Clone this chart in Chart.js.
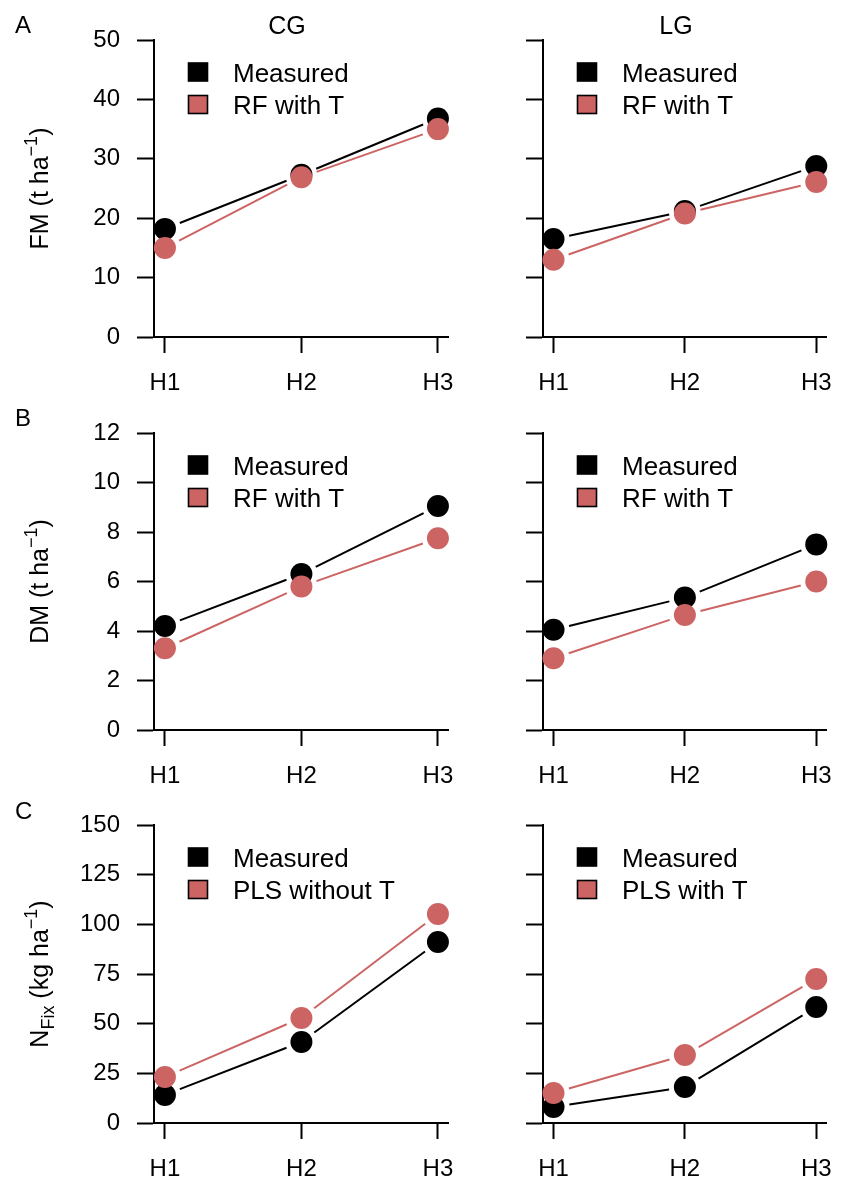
<!DOCTYPE html>
<html>
<head>
<meta charset="utf-8">
<script src="https://cdn.jsdelivr.net/npm/chart.js@4.4.1/dist/chart.umd.min.js"></script>
<style>
  body { margin: 0; background: #fff; }
  #wrap { position: relative; width: 848px; height: 1185px; }
  canvas { position: absolute; }
</style>
</head>
<body>
<div id="wrap">
  <canvas id="fmCG" width="470" height="393" style="left:0;top:0"></canvas>
  <canvas id="fmLG" width="378" height="393" style="left:470px;top:0"></canvas>
  <canvas id="dmCG" width="470" height="393" style="left:0;top:393px"></canvas>
  <canvas id="dmLG" width="378" height="393" style="left:470px;top:393px"></canvas>
  <canvas id="nfCG" width="470" height="399" style="left:0;top:786px"></canvas>
  <canvas id="nfLG" width="378" height="399" style="left:470px;top:786px"></canvas>
</div>
<script>
const harvests = ['H1', 'H2', 'H3'];

// fresh matter (t/ha)
const fmCGMeasured = [18.2, 27.3, 36.8];
const fmCGRF = [15.0, 26.9, 35.0];
const fmLGMeasured = [16.5, 21.2, 28.8];
const fmLGRF = [13.0, 20.8, 26.1];

// dry matter (t/ha)
const dmCGMeasured = [4.2, 6.3, 9.05];
const dmCGRF = [3.3, 5.8, 7.75];
const dmLGMeasured = [4.05, 5.35, 7.5];
const dmLGRF = [2.9, 4.65, 6.0];

// N fixation (kg/ha)
const nfCGMeasured = [14.1, 40.8, 91.1];
const nfCGPLS = [23.2, 52.9, 105.2];
const nfLGMeasured = [8.1, 18.1, 58.4];
const nfLGPLS = [15.1, 34.2, 72.5];

const fmTicks = [0, 10, 20, 30, 40, 50];
const dmTicks = [0, 2, 4, 6, 8, 10, 12];
const nfTicks = [0, 25, 50, 75, 100, 125, 150];

const FONT = "'Liberation Sans', Arial, sans-serif";
const RED = '#cd6464';

const panels = [
  { id: 'fmCG', left: true, top: 40, xh: 56, letter: 'A', title: 'CG', measured: fmCGMeasured, model: fmCGRF, modelLabel: 'RF with T', yTicks: fmTicks,
    yTitle: [{ t: 'FM (t ha' }, { t: '\u22121', sup: true }, { t: ')' }] },
  { id: 'fmLG', left: false, top: 40, xh: 56, title: 'LG', measured: fmLGMeasured, model: fmLGRF, modelLabel: 'RF with T', yTicks: fmTicks },
  { id: 'dmCG', left: true, top: 40, xh: 56, letter: 'B', measured: dmCGMeasured, model: dmCGRF, modelLabel: 'RF with T', yTicks: dmTicks,
    yTitle: [{ t: 'DM (t ha' }, { t: '\u22121', sup: true }, { t: ')' }] },
  { id: 'dmLG', left: false, top: 40, xh: 56, measured: dmLGMeasured, model: dmLGRF, modelLabel: 'RF with T', yTicks: dmTicks },
  { id: 'nfCG', left: true, top: 39, xh: 62, letter: 'C', measured: nfCGMeasured, model: nfCGPLS, modelLabel: 'PLS without T', yTicks: nfTicks,
    yTitle: [{ t: 'N' }, { t: 'Fix', sub: true }, { t: ' (kg ha' }, { t: '\u22121', sup: true }, { t: ')' }] },
  { id: 'nfLG', left: false, top: 39, xh: 62, measured: nfLGMeasured, model: nfLGPLS, modelLabel: 'PLS with T', yTicks: nfTicks }
];

// R type="b" style lines: segments stop short of the points
const gapLines = {
  id: 'gapLines',
  beforeDatasetsDraw(chart) {
    const ctx = chart.ctx;
    const gap = 16;
    chart.data.datasets.forEach((ds, di) => {
      const pts = chart.getDatasetMeta(di).data;
      ctx.save();
      ctx.strokeStyle = ds.borderColor;
      ctx.lineWidth = ds.borderWidth;
      for (let i = 0; i < pts.length - 1; i++) {
        const a = pts[i], b = pts[i + 1];
        const dx = b.x - a.x, dy = b.y - a.y;
        const len = Math.sqrt(dx * dx + dy * dy);
        if (len <= gap * 2) continue;
        const ux = dx / len, uy = dy / len;
        ctx.beginPath();
        ctx.moveTo(a.x + ux * gap, a.y + uy * gap);
        ctx.lineTo(b.x - ux * gap, b.y - uy * gap);
        ctx.stroke();
      }
      ctx.restore();
    });
  }
};

function drawRich(ctx, parts, size) {
  let total = 0;
  const widths = parts.map(p => {
    ctx.font = ((p.sup || p.sub) ? Math.round(size * 0.7) : size) + 'px ' + FONT;
    const w = ctx.measureText(p.t).width;
    total += w;
    return w;
  });
  let x = -total / 2;
  parts.forEach((p, i) => {
    ctx.font = ((p.sup || p.sub) ? Math.round(size * 0.7) : size) + 'px ' + FONT;
    let dy = 0;
    if (p.sup) dy = -size * 0.45;
    if (p.sub) dy = size * 0.22;
    ctx.fillText(p.t, x, dy);
    x += widths[i];
  });
}

const panelDecor = {
  id: 'panelDecor',
  afterDraw(chart, args, p) {
    const ctx = chart.ctx;
    const area = chart.chartArea;
    ctx.save();
    ctx.fillStyle = '#000';
    ctx.textBaseline = 'alphabetic';

    if (p.letter) {
      ctx.font = '24px ' + FONT;
      ctx.textAlign = 'left';
      ctx.fillText(p.letter, 15, 33);
    }
    if (p.title) {
      ctx.font = '25px ' + FONT;
      ctx.textAlign = 'center';
      ctx.fillText(p.title, area.left + 133, 34);
    }
    if (p.yTitle) {
      ctx.save();
      ctx.translate(38, (area.top + area.bottom) / 2);
      ctx.rotate(-Math.PI / 2);
      ctx.translate(0, 10);
      ctx.textAlign = 'left';
      drawRich(ctx, p.yTitle, 25);
      ctx.restore();
    }

    // legend
    chart.data.datasets.forEach((ds, i) => {
      const cy = area.top + 32 + 32.5 * i;
      const cx = area.left + 44;
      ctx.fillStyle = ds.pointBackgroundColor;
      ctx.fillRect(cx - 9.5, cy - 9, 19, 18);
      ctx.strokeStyle = '#000';
      ctx.lineWidth = 1.6;
      ctx.strokeRect(cx - 9.5, cy - 9, 19, 18);
      ctx.fillStyle = '#000';
      ctx.font = '26px ' + FONT;
      ctx.textAlign = 'left';
      ctx.fillText(ds.label, area.left + 79, cy + 9.5);
    });
    ctx.restore();
  }
};

function makePanel(p) {
  const axisGrid = len => ({ drawOnChartArea: false, drawTicks: true, tickLength: len, tickColor: '#000', tickWidth: 2 });
  const axisBorder = { display: true, color: '#000', width: 2 };
  new Chart(document.getElementById(p.id), {
    type: 'line',
    data: {
      datasets: [
        {
          label: 'Measured',
          data: p.measured.map((v, i) => ({ x: i + 1, y: v })),
          borderColor: '#000',
          borderWidth: 2,
          pointBackgroundColor: '#000',
          pointRadius: 11,
          pointBorderWidth: 0,
          showLine: false,
          order: 1
        },
        {
          label: p.modelLabel,
          data: p.model.map((v, i) => ({ x: i + 1, y: v })),
          borderColor: RED,
          borderWidth: 2,
          pointBackgroundColor: RED,
          pointRadius: 11,
          pointBorderWidth: 0,
          showLine: false,
          order: 0
        }
      ]
    },
    options: {
      responsive: false,
      animation: false,
      devicePixelRatio: 1,
      events: [],
      clip: false,
      layout: { padding: { top: p.top, right: p.left ? 20 : 7, bottom: 0, left: 0 } },
      plugins: {
        legend: { display: false },
        tooltip: { enabled: false },
        panelDecor: p
      },
      scales: {
        x: {
          type: 'linear',
          min: 0.92,
          max: 3.08,
          afterBuildTicks: s => { s.ticks = harvests.map((h, i) => ({ value: i + 1 })); },
          afterFit: s => { s.height = p.xh; },
          grid: axisGrid(16),
          border: axisBorder,
          ticks: {
            color: '#000',
            font: { family: FONT, size: 24 },
            padding: 16,
            autoSkip: false,
            maxRotation: 0,
            callback: (v, i) => harvests[i]
          }
        },
        y: {
          min: 0,
          max: p.yTicks[p.yTicks.length - 1],
          afterBuildTicks: s => { s.ticks = p.yTicks.map(v => ({ value: v })); },
          afterFit: s => { s.width = p.left ? 154 : 73; },
          grid: axisGrid(17),
          border: axisBorder,
          ticks: {
            color: '#000',
            font: { family: FONT, size: 24 },
            padding: 17,
            callback: v => p.left ? String(v) : ''
          }
        }
      }
    },
    plugins: [gapLines, panelDecor]
  });
}

panels.forEach(makePanel);
</script>
</body>
</html>
